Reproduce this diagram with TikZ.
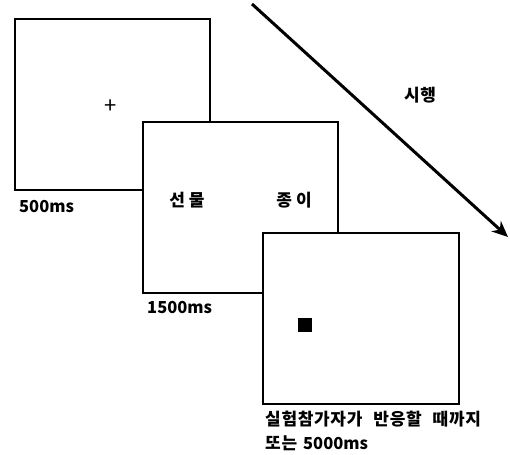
\documentclass[tikz,border=0pt]{standalone}
\usepackage{fontspec}
\setmainfont{Noto Sans CJK KR}
\usetikzlibrary{arrows.meta}
\tikzset{
  frame/.style={draw=black, line width=1.8pt, fill=white, inner sep=0pt, anchor=north west},
  lbl/.style={font=\bfseries\fontsize{16.5}{19}\selectfont, inner sep=0pt, anchor=west},
  kor/.style={font=\bfseries\fontsize{17}{20}\selectfont\addfontfeature{LetterSpace=4}, inner sep=0pt},
}
\begin{document}
\begin{tikzpicture}[x=1pt,y=-1pt]
\useasboundingbox (0,0) rectangle (510,454);
% frames
\node[frame, minimum width=195pt, minimum height=171pt] (f1) at (14,18) {};
\node[frame, minimum width=195pt, minimum height=171pt] (f2) at (142,121) {};
\node[frame, minimum width=196pt, minimum height=171pt] (f3) at (262,232) {};
% contents
\node[font=\fontsize{22}{24}\selectfont, inner sep=0pt] (plus) at (111,107) {+};
\node[kor] (w1) at (187,200) {선\hspace{4pt}물};
\node[kor] (w2) at (294,200) {종\hspace{4pt}이};
\node[fill=black, minimum size=14pt, inner sep=0pt] (sq) at (305,325) {};
% labels
\node[lbl] (t1) at (19,207) {500ms};
\node[lbl] (t2) at (147,308) {1500ms};
\node[kor, anchor=west] (t3a) at (265,419) {실험참가자가\hspace{11pt}반응할\hspace{11pt}때까지};
\node[kor, anchor=west] (t3b) at (265,443) {또는\hspace{6pt}{\fontsize{16.5}{19}\selectfont\addfontfeature{LetterSpace=0}5000ms}};
% trial arrow
\coordinate (as) at (252,4);
\coordinate (ae) at (508,237);
\draw[line width=3pt, -{Stealth[length=16pt, width=14pt, inset=5pt]}] (as) -- (ae);
\node[kor] (trial) at (420,95) {시행};
\end{tikzpicture}
\end{document}
